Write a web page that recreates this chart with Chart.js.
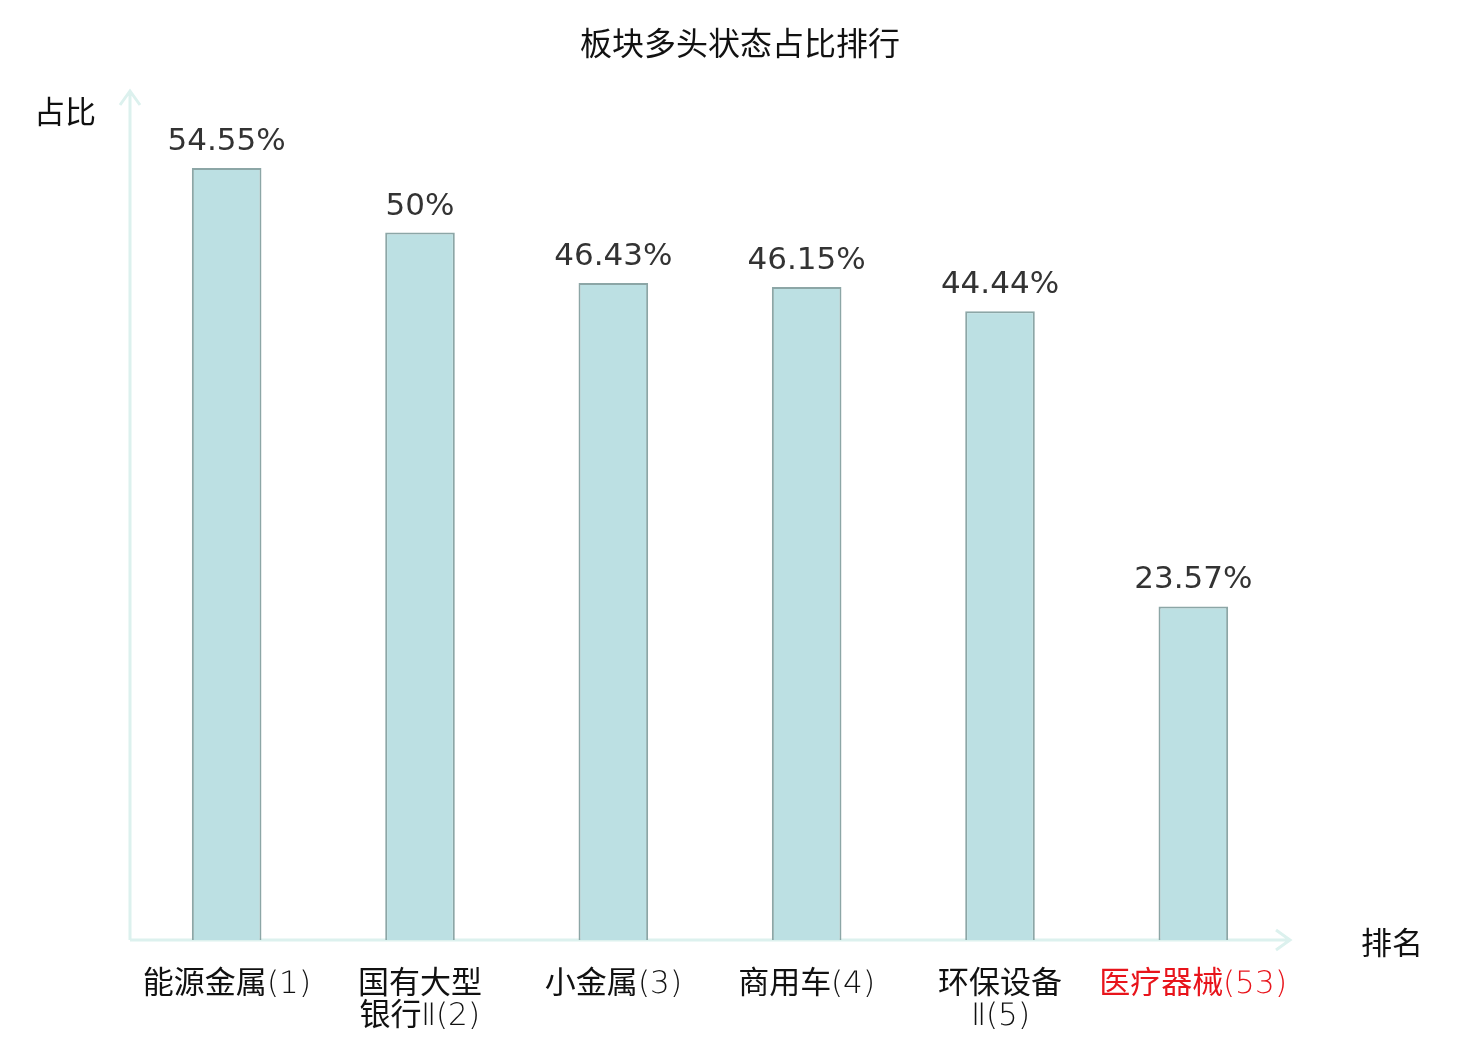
<!DOCTYPE html>
<html>
<head>
<meta charset="utf-8">
<script src="https://cdn.jsdelivr.net/npm/chart.js@4"></script>
<style>
  html, body { margin: 0; padding: 0; background: #fff; }
  #wrap { width: 1480px; height: 1040px; }
  /* thin latin for the tick labels, CJK stays regular */
  @font-face {
    font-family: 'TickLatin';
    src: local('DejaVu Sans ExtraLight'), local('DejaVuSans-ExtraLight');
    unicode-range: U+0000-00FF, U+2160-2188;
  }
</style>
</head>
<body>
<div id="wrap"><canvas id="rankChart" width="1480" height="1040"></canvas></div>
<script>
// data
const categories = [
    '能源金属(1)',
    ['国有大型', '银行Ⅱ(2)'],
    '小金属(3)',
    '商用车(4)',
    ['环保设备', 'Ⅱ(5)'],
    '医疗器械(53)'
];
const shares = [54.55, 50, 46.43, 46.15, 44.44, 23.57];
const labelColors = ['#111', '#111', '#111', '#111', '#111', '#e8141b'];

const FONT = '"DejaVu Sans", "Noto Sans CJK SC", sans-serif';
const CJK = '"Noto Sans CJK SC", sans-serif';
const TICK = 'TickLatin, "Noto Sans CJK SC", sans-serif';
const axisColor = '#dcf1ee';

// axes with arrows, titles and value labels
const decor = {
    id: 'decor',
    beforeDatasetsDraw(chart) {
        const { ctx, chartArea: a } = chart;
        ctx.save();
        ctx.strokeStyle = axisColor;
        ctx.lineWidth = 3;
        ctx.beginPath();
        ctx.moveTo(a.left, a.bottom);
        ctx.lineTo(a.left, a.top);
        ctx.moveTo(a.left, a.bottom);
        ctx.lineTo(a.right, a.bottom);
        // arrow heads
        ctx.moveTo(a.left - 10, a.top + 14);
        ctx.lineTo(a.left, a.top);
        ctx.lineTo(a.left + 10, a.top + 14);
        ctx.moveTo(a.right - 14, a.bottom - 10);
        ctx.lineTo(a.right, a.bottom);
        ctx.lineTo(a.right - 14, a.bottom + 10);
        ctx.stroke();
        ctx.restore();
    },
    afterDatasetsDraw(chart) {
        const { ctx } = chart;
        ctx.save();
        ctx.fillStyle = '#111';
        ctx.font = '32px ' + CJK;
        ctx.textAlign = 'center';
        ctx.textBaseline = 'middle';
        ctx.fillText('板块多头状态占比排行', 740, 43);
        ctx.font = '31px ' + CJK;
        ctx.textAlign = 'left';
        ctx.fillText('占比', 34, 111);
        ctx.fillText('排名', 1361, 942);

        ctx.fillStyle = '#333';
        ctx.font = '31px ' + FONT;
        ctx.textAlign = 'center';
        ctx.textBaseline = 'alphabetic';
        chart.getDatasetMeta(0).data.forEach((bar, i) => {
            ctx.fillText(shares[i] + '%', bar.x, bar.y - 18);
        });
        ctx.restore();
    }
};

function draw() {
    new Chart(document.getElementById('rankChart'), {
        type: 'bar',
        data: {
            labels: categories,
            datasets: [{
                data: shares,
                backgroundColor: '#bce0e3',
                borderColor: '#8ca6a6',
                borderWidth: 2,
                categoryPercentage: 1,
                barPercentage: 0.36
            }]
        },
        options: {
            responsive: false,
            animation: false,
            layout: { padding: { left: 130, right: 190, top: 91, bottom: 0 } },
            plugins: {
                legend: { display: false },
                tooltip: { enabled: false }
            },
            scales: {
                x: {
                    grid: { display: false, drawTicks: false },
                    border: { display: false },
                    ticks: {
                        padding: 29,
                        maxRotation: 0,
                        autoSkip: false,
                        font: { family: TICK, size: 31, lineHeight: 1.04 },
                        color: ctx => labelColors[ctx.index]
                    },
                    afterFit(scale) { scale.height = 100; }
                },
                y: {
                    display: false,
                    min: 0,
                    max: 60
                }
            }
        },
        plugins: [decor]
    });
}

document.fonts.load('31px TickLatin', '(1)Ⅱ').then(draw, draw);
</script>
</body>
</html>
